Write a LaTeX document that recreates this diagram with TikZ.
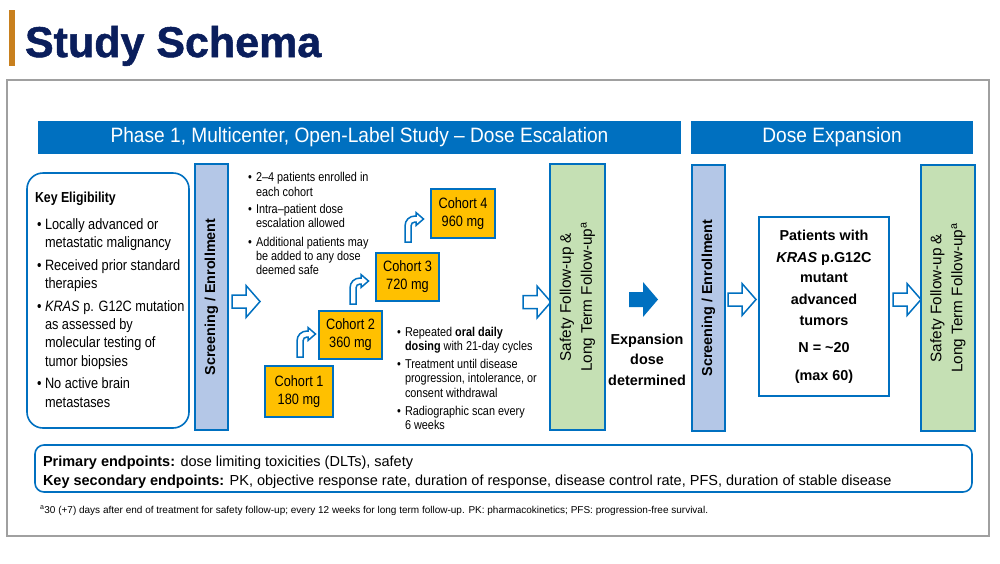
\documentclass[tikz,border=0pt]{standalone}
\usepackage{fontspec}
\setmainfont{Liberation Sans}
\newfontfamily\cf{Liberation Sans}[FakeStretch=0.85]
\newfontfamily\hf{Liberation Sans}[FakeStretch=0.92]
\newfontfamily\titlefont{Liberation Sans}[BoldFeatures={FakeBold=1.2}]
\newcommand\fsz[2]{\fontsize{#1}{#2}\selectfont}
\usetikzlibrary{calc}
\definecolor{navy}{RGB}{10,30,92}
\definecolor{barorange}{RGB}{200,128,30}
\definecolor{bblue}{RGB}{0,112,192}
\definecolor{scrfill}{RGB}{180,199,231}
\definecolor{saffill}{RGB}{197,224,180}
\definecolor{cohfill}{RGB}{255,192,0}
\definecolor{framegray}{RGB}{160,160,160}
\begin{document}
\begin{tikzpicture}[x=1pt,y=-1pt,
  every node/.style={inner sep=0pt, outer sep=0pt},
  bx/.style={draw=bblue, line width=1.6},
  hdr/.style={fill=bblue, text=white, font=\hf\fsz{20.8}{24}, minimum height=33},
  scr/.style={bx, fill=scrfill, minimum width=33, minimum height=266},
  saf/.style={bx, fill=saffill, minimum width=55, minimum height=266},
  coh/.style={bx, fill=cohfill, align=center, font=\cf\fsz{15}{18}},
  scrtxt/.style={rotate=90, font=\bfseries\fsz{14.4}{17}},
  saftxt/.style={rotate=90, align=center, font=\fsz{15.3}{21}},
  kef/.style={font=\cf\fsz{15}{18}, anchor=base west},
  blt/.style={font=\cf\fsz{12.8}{15}, anchor=base west},
  bold14/.style={font=\bfseries\fsz{14.4}{20}, anchor=base},
  hollow/.pic={\draw[bblue, line width=1.5, fill=white, line join=miter]
     (0,-6.5) -- (14,-6.5) -- (14,-16) -- (28,0) -- (14,16) -- (14,6.5) -- (0,6.5) -- cycle;},
  solidarr/.pic={\fill[bblue]
     (0,-7.5) -- (14,-7.5) -- (14,-17.5) -- (29,0) -- (14,17.5) -- (14,7.5) -- (0,7.5) -- cycle;},
  bent/.pic={\draw[bblue, line width=1.5, fill=white, line join=miter]
     (-3,0) -- (-3,-16) .. controls (-3,-22) and (1.6,-26) .. (7,-26)
     -- (8,-26) -- (8,-29.5) -- (15.5,-23) -- (8,-16.5) -- (8,-20) -- (7,-20)
     .. controls (4.6,-20) and (3,-18.3) .. (3,-16) -- (3,0) -- cycle;}
]
\useasboundingbox (0,0) rectangle (1000,563);
\fill[white] (0,0) rectangle (1000,563);

% title
\fill[barorange] (9,10) rectangle (15,66);
\node[anchor=base west, font=\titlefont\bfseries\fsz{43}{43}, text=navy] (title) at (25,57) {Study Schema};

% frame
\draw[framegray, line width=1.5] (7,80) rectangle (989,536);

% headers
\node[hdr, minimum width=643] (h1) at (359.5,137.5) {Phase 1, Multicenter, Open-Label Study – Dose Escalation};
\node[hdr, minimum width=282] (h2) at (832,137.5) {Dose Expansion};

% key eligibility
\node[bx, rounded corners=16, minimum width=162, minimum height=255] (ke) at (108,300.5) {};
\node[font=\cf\bfseries\fsz{14.5}{17}, anchor=base west] (ketitle) at (35,202) {Key Eligibility};
\foreach \yy in {229,270,311,388}
  \node[kef] (keb\yy) at (37,\yy) {\textbullet};
\foreach \yy/\lbl in {229/{Locally advanced or}, 247/{metastatic malignancy},
   270/{Received prior standard}, 288/{therapies},
   311/{\textit{KRAS} p. G12C mutation}, 329/{as assessed by},
   347/{molecular testing of}, 366/{tumor biopsies},
   388/{No active brain}, 407/{metastases}}
  \node[kef] (ke\yy) at (45,\yy) {\lbl};

% screening 1
\node[scr] (s1) at (211.5,297) {};
\node[scrtxt] (s1t) at (s1.center) {Screening / Enrollment};
\pic at (232,301.5) {hollow};

% top bullets
\foreach \yy in {181,213,246}
  \node[blt] (tb\yy) at (248,\yy) {\textbullet};
\foreach \yy/\lbl in {181/{2–4 patients enrolled in}, 196/{each cohort},
   213/{Intra–patient dose}, 227/{escalation allowed},
   246/{Additional patients may}, 260/{be added to any dose}, 274/{deemed safe}}
  \node[blt] (tt\yy) at (256,\yy) {\lbl};

% cohorts
\node[coh, minimum width=68, minimum height=51] (c1) at (299,391.5) {Cohort 1\\180 mg};
\node[coh, minimum width=63, minimum height=48] (c2) at (350.5,335) {Cohort 2\\360 mg};
\node[coh, minimum width=63, minimum height=48] (c3) at (407.5,277) {Cohort 3\\720 mg};
\node[coh, minimum width=64, minimum height=49] (c4) at (463,213.5) {Cohort 4\\960 mg};
\coordinate (ba1) at ($(c1.north)+(1,-9)$);
\coordinate (ba2) at ($(c2.north)+(2.5,-7)$);
\coordinate (ba3) at ($(c3.north)+(0.5,-11)$);
\pic at (ba1) {bent};
\pic at (ba2) {bent};
\pic at (ba3) {bent};

% bottom bullets
\foreach \yy in {336,368,415}
  \node[blt] (bb\yy) at (397,\yy) {\textbullet};
\foreach \yy/\lbl in {336/{Repeated \textbf{oral daily}}, 350/{\textbf{dosing} with 21-day cycles},
   368/{Treatment until disease}, 382/{progression, intolerance, or}, 397/{consent withdrawal},
   415/{Radiographic scan every}, 429/{6 weeks}}
  \node[blt] (bt\yy) at (405,\yy) {\lbl};

% safety 1
\pic at (523,302) {hollow};
\node[saf] (f1) at (577.5,297) {};
\node[saftxt] (f1t) at (f1.center) {Safety Follow-up \&\\Long Term Follow-up\textsuperscript{a}};

% expansion dose
\pic at (629,299.5) {solidarr};
\node[bold14] (ex1) at (647,344) {Expansion};
\node[bold14] (ex2) at (647,364) {dose};
\node[bold14] (ex3) at (647,385) {determined};

% screening 2
\node[scr] (s2) at (708.5,298) {};
\node[scrtxt] (s2t) at (s2.center) {Screening / Enrollment};
\pic at (728,299.5) {hollow};

% patients box
\node[bx, fill=white, minimum width=130, minimum height=179] (pt) at (824,306.5) {};
\foreach \yy/\lbl in {240/{Patients with}, 262/{\textit{KRAS} p.G12C}, 282/{mutant},
   304/{advanced}, 325/{tumors}, 352/{N = \textasciitilde20}, 380/{(max 60)}}
  \node[bold14] (pt\yy) at (824,\yy) {\lbl};

% safety 2
\pic at (893,299.5) {hollow};
\node[saf, minimum width=54] (f2) at (948,298) {};
\node[saftxt] (f2t) at (f2.center) {Safety Follow-up \&\\Long Term Follow-up\textsuperscript{a}};

% endpoints
\node[bx, rounded corners=9, minimum width=937, minimum height=47] (ep) at (503.5,468.5) {};
\node[anchor=base west, font=\fsz{14.5}{17}] (ep1) at (43,466) {\textbf{Primary endpoints:} dose limiting toxicities (DLTs), safety};
\node[anchor=base west, font=\fsz{14.5}{17}] (ep2) at (43,485) {\textbf{Key secondary endpoints:} PK, objective response rate, duration of response, disease control rate, PFS, duration of stable disease};

% footnote
\node[anchor=base west, font=\fsz{10}{12}] (fn) at (40,513) {\textsuperscript{a}30 (+7) days after end of treatment for safety follow-up; every 12 weeks for long term follow-up. PK: pharmacokinetics; PFS: progression-free survival.};
\end{tikzpicture}
\end{document}
